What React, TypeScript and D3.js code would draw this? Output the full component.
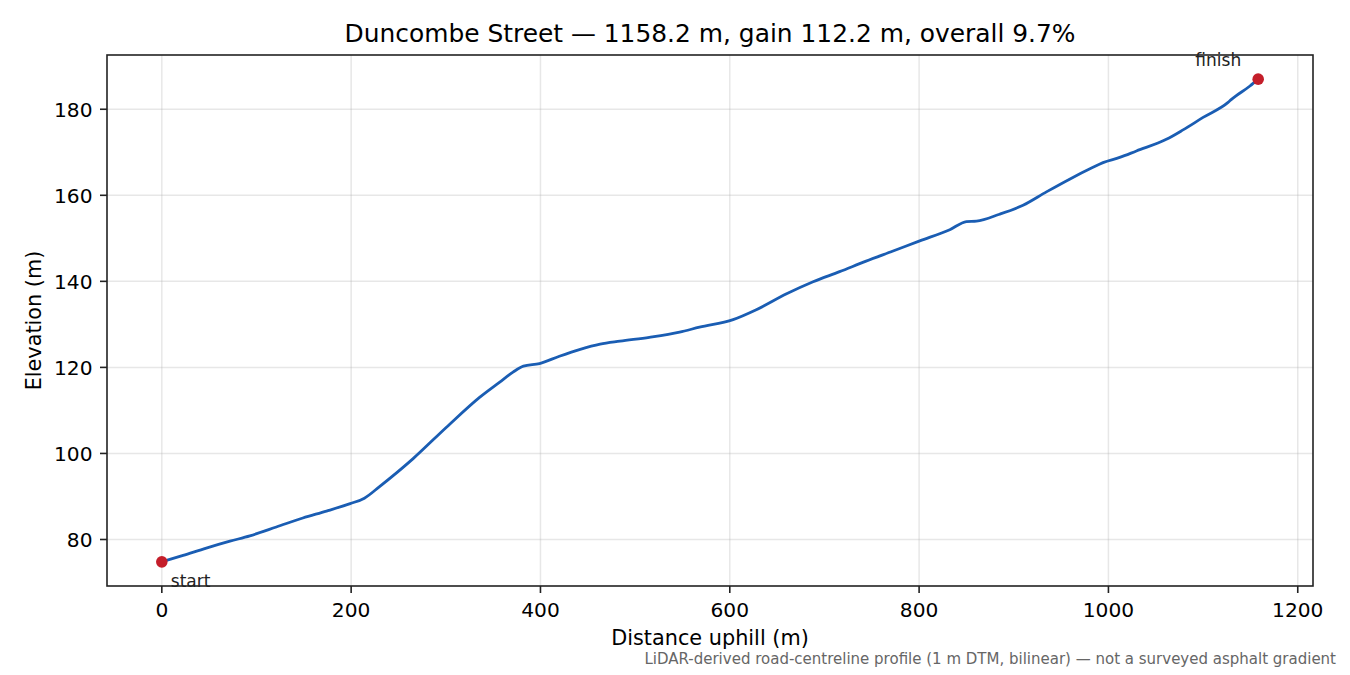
import React from "react";
import * as d3 from "d3";

const distance = [0, 22.5, 47, 72, 93, 121, 149, 174, 199, 214, 230, 265.5, 300.7, 336, 357, 371, 382, 399, 420, 442, 463, 484, 515, 547, 568, 603.5, 628, 660, 688, 716, 744, 772.5, 800.7, 832.4, 850, 860.6, 885, 909.8, 934.5, 959, 983.7, 994.3, 1011.9, 1029.6, 1061.2, 1078.8, 1100, 1126.4, 1130, 1149.5, 1158.2];
const elevation = [74.8, 76.3, 78.0, 79.6, 80.85, 82.9, 85.0, 86.6, 88.35, 89.6, 92.3, 98.8, 106.1, 113.1, 116.6, 118.9, 120.3, 120.9, 122.6, 124.2, 125.4, 126.1, 127.0, 128.2, 129.35, 131.1, 133.4, 137.1, 139.9, 142.25, 144.7, 147.05, 149.4, 152.0, 153.9, 154.0, 155.6, 157.7, 160.8, 163.75, 166.5, 167.6, 168.8, 170.3, 173.0, 175.2, 178.1, 181.6, 182.3, 185.4, 187.0];
const xTicks = [0, 200, 400, 600, 800, 1000, 1200];
const yTicks = [80, 100, 120, 140, 160, 180];
const titleText = "Duncombe Street — 1158.2 m, gain 112.2 m, overall 9.7%";
const xLabel = "Distance uphill (m)";
const yLabel = "Elevation (m)";
const footnote = "LiDAR-derived road-centreline profile (1 m DTM, bilinear) — not a surveyed asphalt gradient";

export default function App() {
  const W = 1350, H = 675;
  const L = 107, R = 1313, T = 55, B = 586;
  const xMin = d3.min(distance)!, xMax = d3.max(distance)!;
  const yMin = d3.min(elevation)!, yMax = d3.max(elevation)!;
  const xm = (xMax - xMin) * 0.05, ym = (yMax - yMin) * 0.05;
  const x = d3.scaleLinear().domain([xMin - xm, xMax + xm]).range([L, R]);
  const y = d3.scaleLinear().domain([yMin - ym, yMax + ym]).range([B, T]);
  const pts = distance.map((d, i) => [d, elevation[i]] as [number, number]);
  const line = d3.line<[number, number]>().x(d => x(d[0])).y(d => y(d[1])).curve(d3.curveMonotoneX);
  const font = "DejaVu Sans, sans-serif";
  const first = pts[0];
  const last = pts[pts.length - 1];
  return (
    <svg width={W} height={H} style={{ position: "absolute", left: 0, top: 0, background: "#fff" }} fontFamily={font}>
      <rect x={0} y={0} width={W} height={H} fill="#fff" />
      {xTicks.map(t => (
        <line key={"gx" + t} x1={x(t)} x2={x(t)} y1={T} y2={B} stroke="#b0b0b0" strokeOpacity={0.3} strokeWidth={1.5} />
      ))}
      {yTicks.map(t => (
        <line key={"gy" + t} x1={L} x2={R} y1={y(t)} y2={y(t)} stroke="#b0b0b0" strokeOpacity={0.3} strokeWidth={1.5} />
      ))}
      <path d={line(pts)!} fill="none" stroke="#1a5db3" strokeWidth={2.8} strokeLinejoin="round" strokeLinecap="round" />
      <circle cx={x(first[0])} cy={y(first[1])} r={5.8} fill="#c41e2a" />
      <circle cx={x(last[0])} cy={y(last[1])} r={5.8} fill="#c41e2a" />
      <text x={x(first[0]) + 9} y={y(first[1]) + 25} fontSize={17} fill="#222">start</text>
      <text x={x(last[0]) - 17} y={y(last[1]) - 13} fontSize={17} fill="#222" textAnchor="end">finish</text>
      <rect x={L} y={T} width={R - L} height={B - T} fill="none" stroke="#222" strokeWidth={1.6} />
      {xTicks.map(t => (
        <g key={"tx" + t}>
          <line x1={x(t)} x2={x(t)} y1={B} y2={B + 7} stroke="#222" strokeWidth={1.6} />
          <text x={x(t)} y={B + 31} fontSize={20.2} textAnchor="middle" fill="#000">{t}</text>
        </g>
      ))}
      {yTicks.map(t => (
        <g key={"ty" + t}>
          <line x1={L - 7} x2={L} y1={y(t)} y2={y(t)} stroke="#222" strokeWidth={1.6} />
          <text x={L - 14.5} y={y(t) + 7.5} fontSize={20.2} textAnchor="end" fill="#000">{t}</text>
        </g>
      ))}
      <text x={(L + R) / 2} y={645} fontSize={20.8} textAnchor="middle" fill="#000">{xLabel}</text>
      <text transform={`translate(41, ${(T + B) / 2}) rotate(-90)`} fontSize={20.8} textAnchor="middle" fill="#000">{yLabel}</text>
      <text x={(L + R) / 2} y={42} fontSize={24.9} textAnchor="middle" fill="#000">{titleText}</text>
      <text x={1336} y={664} fontSize={15} textAnchor="end" fill="#666">{footnote}</text>
    </svg>
  );
}
